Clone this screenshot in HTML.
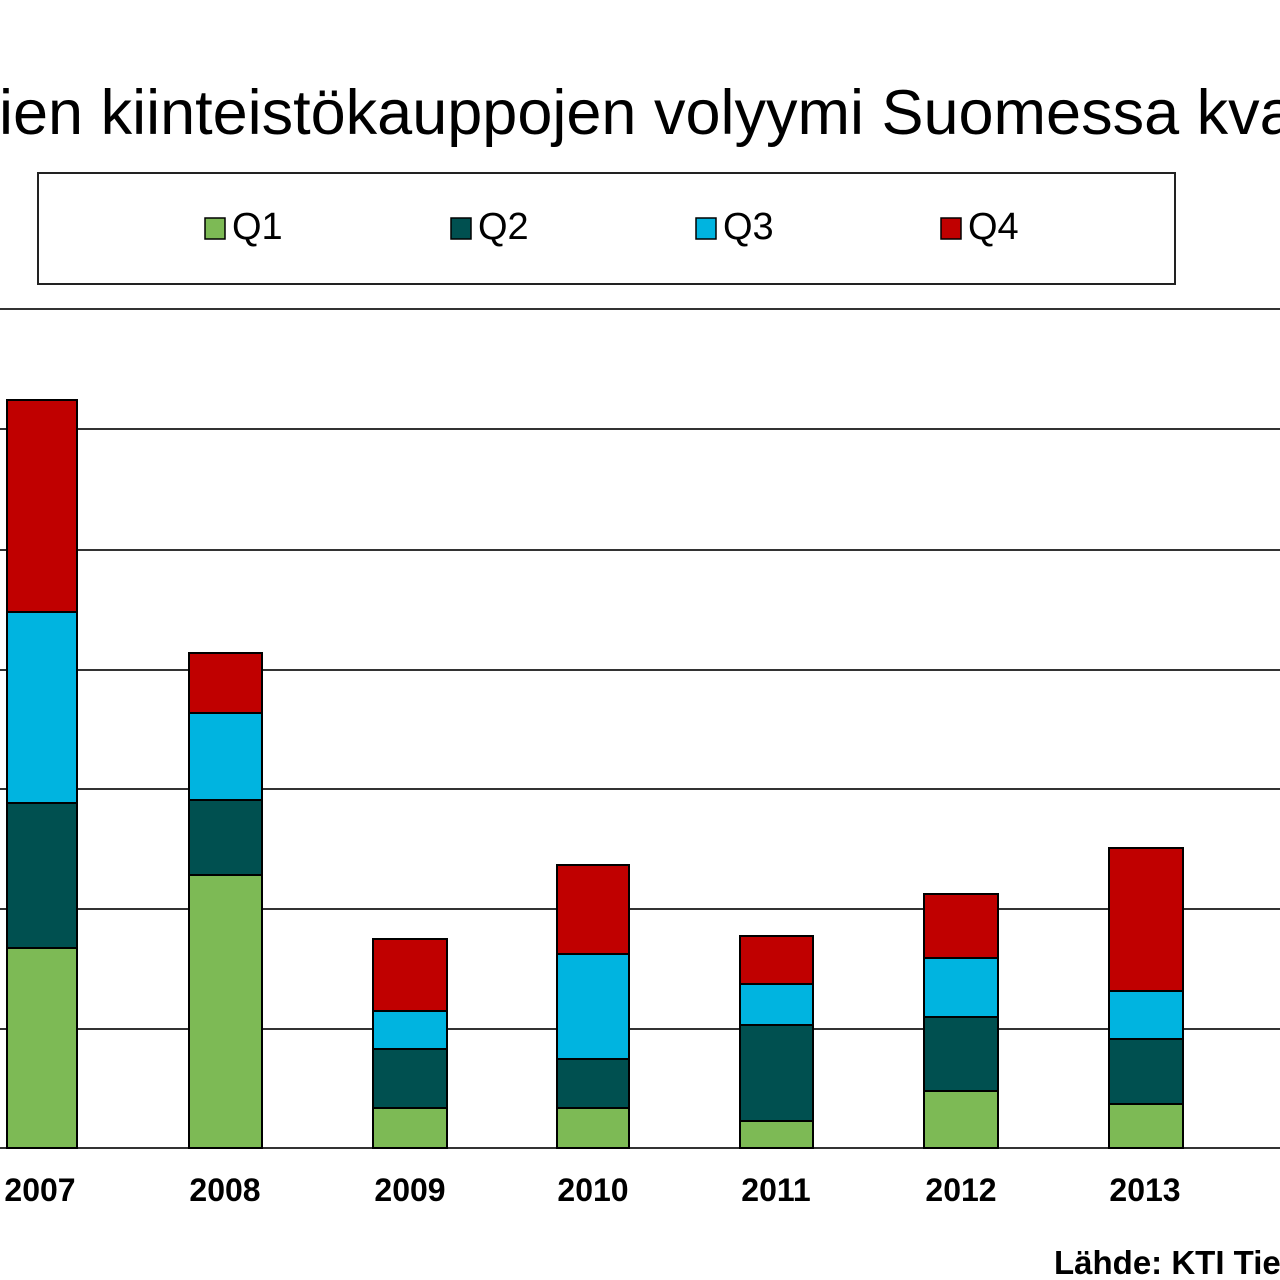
<!DOCTYPE html>
<html><head><meta charset="utf-8"><style>
html,body{margin:0;padding:0;background:#fff;width:1280px;height:1280px;overflow:hidden;font-family:"Liberation Sans",Arial,sans-serif;}
</style></head><body>
<svg width="1280" height="1280" xmlns="http://www.w3.org/2000/svg" style="position:absolute;left:0;top:0">
<text x="-1" y="134" font-size="63" font-family="Liberation Sans, sans-serif" fill="#000">ien kiinteistökauppojen volyymi Suomessa kvartaaleittain</text>
<rect x="38" y="173" width="1137" height="111" fill="#fff" stroke="#222" stroke-width="2"/>
<g font-size="38" font-family="Liberation Sans, sans-serif" fill="#000">
<rect x="205" y="218" width="20" height="21" fill="#7dba55" stroke="#000" stroke-width="1.5"/><text x="232" y="239">Q1</text>
<rect x="451" y="218" width="20" height="21" fill="#005050" stroke="#000" stroke-width="1.5"/><text x="478" y="239">Q2</text>
<rect x="696" y="218" width="20" height="21" fill="#00b4e0" stroke="#000" stroke-width="1.5"/><text x="723" y="239">Q3</text>
<rect x="941" y="218" width="20" height="21" fill="#c00000" stroke="#000" stroke-width="1.5"/><text x="968" y="239">Q4</text>
</g>
<g stroke="#333" stroke-width="2">
<line x1="0" y1="309" x2="1280" y2="309"/>
<line x1="0" y1="429" x2="1280" y2="429"/>
<line x1="0" y1="550" x2="1280" y2="550"/>
<line x1="0" y1="670" x2="1280" y2="670"/>
<line x1="0" y1="789" x2="1280" y2="789"/>
<line x1="0" y1="909" x2="1280" y2="909"/>
<line x1="0" y1="1029" x2="1280" y2="1029"/>
<line x1="0" y1="1148" x2="1280" y2="1148"/>
</g>
<g stroke="#000" stroke-width="2">
<rect x="7" y="948" width="70" height="200" fill="#7dba55"/><rect x="7" y="803" width="70" height="145" fill="#005050"/><rect x="7" y="612" width="70" height="191" fill="#00b4e0"/><rect x="7" y="400" width="70" height="212" fill="#c00000"/>
<rect x="189" y="875" width="73" height="273" fill="#7dba55"/><rect x="189" y="800" width="73" height="75" fill="#005050"/><rect x="189" y="713" width="73" height="87" fill="#00b4e0"/><rect x="189" y="653" width="73" height="60" fill="#c00000"/>
<rect x="373" y="1108" width="74" height="40" fill="#7dba55"/><rect x="373" y="1049" width="74" height="59" fill="#005050"/><rect x="373" y="1011" width="74" height="38" fill="#00b4e0"/><rect x="373" y="939" width="74" height="72" fill="#c00000"/>
<rect x="557" y="1108" width="72" height="40" fill="#7dba55"/><rect x="557" y="1059" width="72" height="49" fill="#005050"/><rect x="557" y="954" width="72" height="105" fill="#00b4e0"/><rect x="557" y="865" width="72" height="89" fill="#c00000"/>
<rect x="740" y="1121" width="73" height="27" fill="#7dba55"/><rect x="740" y="1025" width="73" height="96" fill="#005050"/><rect x="740" y="984" width="73" height="41" fill="#00b4e0"/><rect x="740" y="936" width="73" height="48" fill="#c00000"/>
<rect x="924" y="1091" width="74" height="57" fill="#7dba55"/><rect x="924" y="1017" width="74" height="74" fill="#005050"/><rect x="924" y="958" width="74" height="59" fill="#00b4e0"/><rect x="924" y="894" width="74" height="64" fill="#c00000"/>
<rect x="1109" y="1104" width="74" height="44" fill="#7dba55"/><rect x="1109" y="1039" width="74" height="65" fill="#005050"/><rect x="1109" y="991" width="74" height="48" fill="#00b4e0"/><rect x="1109" y="848" width="74" height="143" fill="#c00000"/>
</g>
<g font-size="32" font-weight="bold" font-family="Liberation Sans, sans-serif" fill="#000" text-anchor="middle">
<text x="40" y="1201">2007</text><text x="225" y="1201">2008</text><text x="410" y="1201">2009</text><text x="593" y="1201">2010</text><text x="776" y="1201">2011</text><text x="961" y="1201">2012</text><text x="1145" y="1201">2013</text>
</g>
<text x="1054" y="1274" font-size="33" font-weight="bold" font-family="Liberation Sans, sans-serif" fill="#000">Lähde: KTI Tietopalvelu</text>
</svg>
</body></html>
